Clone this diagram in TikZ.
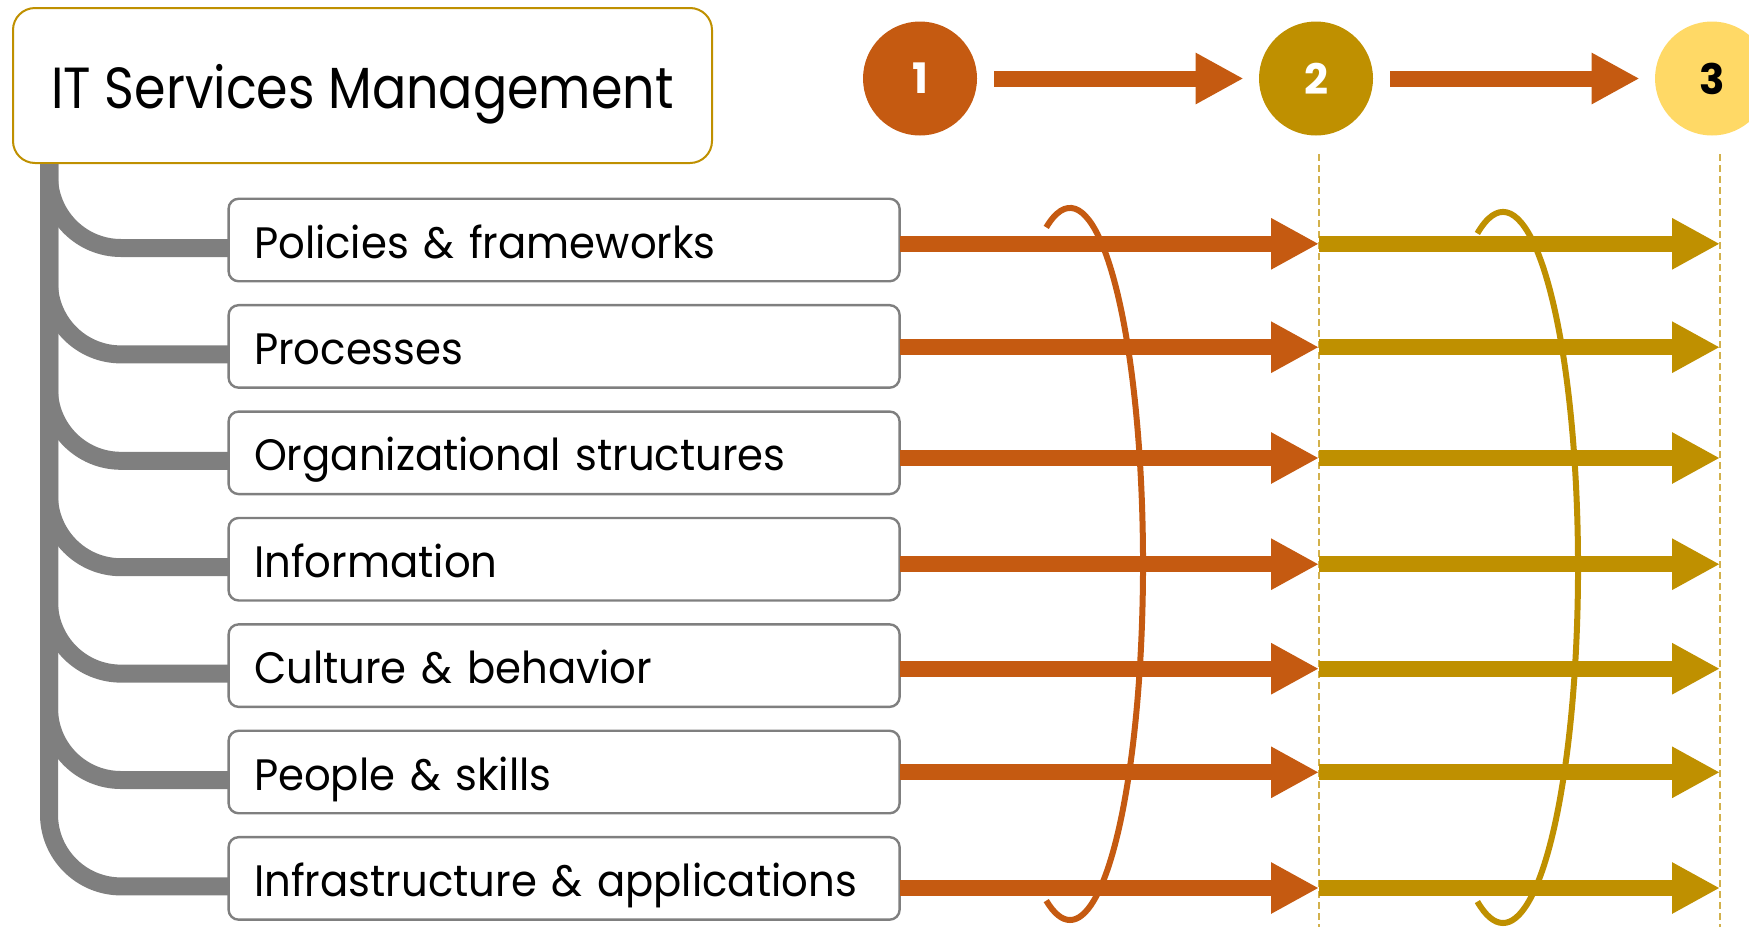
\documentclass[tikz,border=0pt]{standalone}
\usepackage{fontspec}
\setmainfont{Poppins}
\newfontfamily\titlefamily[FakeStretch=0.875]{Poppins}
\newfontfamily\itemfamily[FakeStretch=0.95]{Poppins}
\usetikzlibrary{arrows.meta,calc,positioning}
\definecolor{rust}{HTML}{C55A11}
\definecolor{gold}{HTML}{BF9000}
\definecolor{sand}{HTML}{FFD966}
\definecolor{grey}{HTML}{7F7F7F}
\newcommand{\itemfont}{\itemfamily\fontsize{22}{26}\selectfont}
\newcommand{\titlefont}{\titlefamily\fontsize{29}{34}\selectfont}
\newcommand{\stagefont}{\fontsize{21}{24}\selectfont\bfseries}
\tikzset{%
  headbox/.style={rectangle, draw=gold, line width=1pt, rounded corners=11pt,
    fill=white, minimum width=349.5pt, minimum height=77.5pt, inner sep=0pt,
    text height=22.5pt, text depth=0pt, font=\titlefont},
  topic/.style={rectangle, draw=grey, line width=1.2pt, rounded corners=5pt,
    fill=white, anchor=west, outer sep=0pt, inner xsep=12.75pt, text width=310pt,
    align=left, minimum height=41.25pt, text height=18pt, text depth=0pt,
    font=\itemfont},
  stage/.style={circle, minimum size=57pt, inner sep=0pt, font=\stagefont},
  branch/.style={grey, line width=9pt},
  flow/.style={line width=8pt, -{Triangle[length=24pt,width=24pt]}},
  guide/.style={gold!70, line width=0.75pt, dash pattern=on 3.5pt off 2pt},
  swirl/.style={line width=3pt},
}

\begin{document}
\begin{tikzpicture}[x=0.5pt, y=0.5pt]
  \useasboundingbox (0,0) rectangle (1749,-927);

  % stage guides
  \draw[guide] (1319,-154) -- (1319,-927);
  \draw[guide] (1720,-154) -- (1720,-927);

  \node[headbox] (itsm) at (362.5,-85.5) {IT Services Management};
  \coordinate (trunk) at ($(itsm.south west)+(37,0)$);

  \foreach \n/\x/\col/\ink in {1/920/rust/white, 2/1316/gold/white, 3/1712/sand/black}
    \node[stage, fill=\col, text=\ink] (s\n) at (\x,-78.5) {\n};

  \foreach \a/\b in {1/2,2/3}
    \draw[flow, rust, shorten <=8.5pt, shorten >=7.5pt] (s\a) -- (s\b);

  \foreach \row/\ya/\txt in {1/243.8/{Policies \& frameworks}, 2/347.2/Processes,
      3/458/{Organizational structures}, 4/564.2/Information,
      5/668.7/{Culture \& behavior}, 6/772.3/{People \& skills},
      7/888/{Infrastructure \& applications}} {
    \node[topic] (t\row) at (228.6,{-240-106.4*(\row-1)}) {\txt};
    \coordinate (m\row) at (1319,-\ya);
    \coordinate (e\row) at (1720,-\ya);
    \draw[branch] (trunk) -- ($(trunk |- t\row.west)+(0,64)$)
      arc[start angle=180, end angle=270, radius=72] -- ($(t\row.west)+(0,-8)$);
    \draw[flow, rust] (t\row.east |- m\row) -- (m\row);
    \draw[flow, gold] (m\row) -- (e\row);
  }

  % loops round the arrows
  \coordinate (c1) at (1070,-564);
  \coordinate (c2) at (1503,-567.5);
  \draw[swirl, rust] ($(c1)+(109:73 and 356)$)
    arc[start angle=109, end angle=-109, x radius=73, y radius=356];
  \draw[swirl, gold] ($(c2)+(110:75 and 355.5)$)
    arc[start angle=110, end angle=-110, x radius=75, y radius=355.5];
\end{tikzpicture}
\end{document}
